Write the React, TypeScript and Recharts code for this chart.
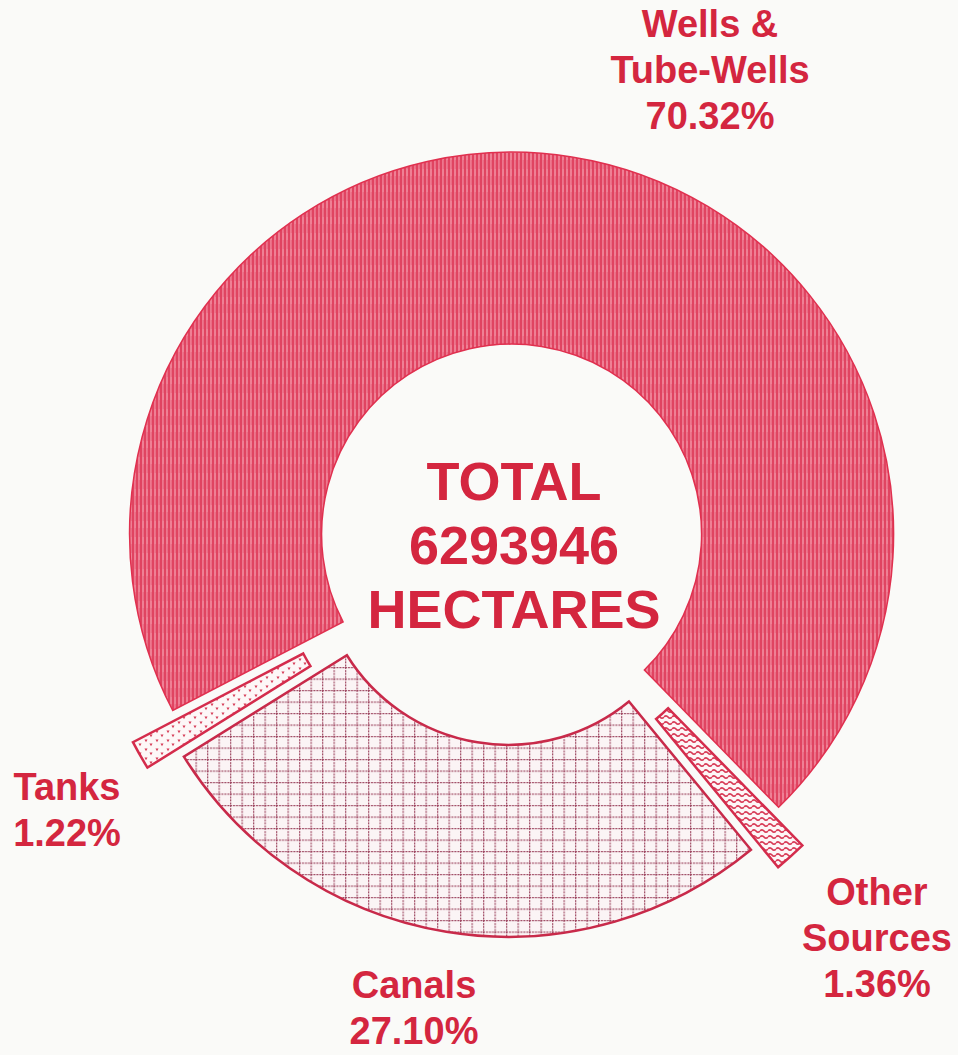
import React from 'react';
import { PieChart, Pie, Cell } from 'recharts';

// irrigated area by source (% of total)
const sources = ['Wells & Tube-Wells', 'Other Sources', 'Canals', 'Tanks'];
const shares = [70.32, 1.36, 27.1, 1.22];
const labelLines = [['Wells &', 'Tube-Wells'], ['Other', 'Sources'], ['Canals'], ['Tanks']];
const totalLines = ['TOTAL', '6293946', 'HECTARES'];

const data = sources.map((name, i) => ({ name, value: shares[i] }));

const W = 958;
const H = 1055;
const BASE = { x: 510, y: 544 };
const START = 207.5;
const INNER = 190;
const OUTER = 382;
const RED = '#d4263f';

// per-slice look: fill pattern, outline, how far it is pulled out, where its label sits
const sliceStyle = [
  { fill: 'url(#pWells)', stroke: '#e0304f', width: 1.5, explode: 10, label: { x: 710, y: 37 } },
  { fill: 'url(#pOther)', stroke: '#d42c4c', width: 2.5, explode: 38, label: { x: 877, y: 905 } },
  { fill: 'url(#pCanals)', stroke: '#c82a4a', width: 2.5, explode: 11, label: { x: 414, y: 998 } },
  { fill: 'url(#pTanks)', stroke: '#d42c4c', width: 2.5, explode: 44, label: { x: 67, y: 800 } },
];

const total = shares.reduce((a, b) => a + b, 0);

// mid angle of each slice, recharts convention (deg, counter-clockwise from 3 o'clock)
const midAngles = shares.map((v, i) => {
  const before = shares.slice(0, i).reduce((a, b) => a + b, 0);
  return START - ((before + v / 2) / total) * 360;
});

const RAD = Math.PI / 180;

const SliceLabel = ({ index, shown }: { index: number; shown: number }) => {
  if (index !== shown) return <g />;
  const pos = sliceStyle[shown].label;
  const lines = [...labelLines[shown], `${shares[shown].toFixed(2)}%`];
  return (
    <text
      x={pos.x}
      y={pos.y}
      textAnchor="middle"
      fill={RED}
      fontFamily="'Liberation Sans', Arial, sans-serif"
      fontWeight="bold"
      fontSize={38}
    >
      {lines.map((l, k) => (
        <tspan key={k} x={pos.x} y={pos.y + k * 46}>
          {l}
        </tspan>
      ))}
    </text>
  );
};

export default function App() {
  return (
    <div style={{ position: 'absolute', left: 0, top: 0, width: W, height: H, background: '#fafaf8' }}>
      <PieChart width={W} height={H} margin={{ top: 0, right: 0, bottom: 0, left: 0 }}>
        <defs>
          <pattern id="pWells" width="4" height="16" patternUnits="userSpaceOnUse">
            <rect width="4" height="16" fill="#ef8095" />
            <line x1="1" y1="0" x2="1" y2="16" stroke="#df3d5b" strokeWidth="1.8" />
            <line x1="3.2" y1="0" x2="3.2" y2="9" stroke="#e65d78" strokeWidth="0.8" />
          </pattern>
          <pattern id="pCanals" width="11.5" height="11.5" patternUnits="userSpaceOnUse">
            <rect width="11.5" height="11.5" fill="#fbf4f5" />
            <path d="M0 0.6 H11.5 M0.6 0 V11.5" stroke="#9e4862" strokeWidth="1.3" strokeDasharray="2 1" />
          </pattern>
          <pattern id="pTanks" width="11" height="9" patternUnits="userSpaceOnUse">
            <rect width="11" height="9" fill="#fdf7f7" />
            <path d="M1.5 1.5 l3 0 l-1.5 2.8 z" fill="#d63a56" />
            <path d="M6.5 5.5 l3 0 l-1.5 2.8 z" fill="#d63a56" />
          </pattern>
          <pattern id="pOther" width="8" height="6" patternUnits="userSpaceOnUse">
            <rect width="8" height="6" fill="#fdf6f7" />
            <path d="M0 3 Q2 0.6 4 3 T8 3" fill="none" stroke="#d83a56" strokeWidth="1.7" />
          </pattern>
        </defs>

        {sliceStyle.map((s, shown) => (
          <Pie
            key={shown}
            data={data}
            dataKey="value"
            nameKey="name"
            cx={BASE.x + s.explode * Math.cos(midAngles[shown] * RAD)}
            cy={BASE.y - s.explode * Math.sin(midAngles[shown] * RAD)}
            innerRadius={INNER}
            outerRadius={OUTER}
            startAngle={START}
            endAngle={START - 360}
            isAnimationActive={false}
            labelLine={false}
            label={(p: any) => <SliceLabel index={p.index} shown={shown} />}
          >
            {data.map((d, i) => (
              <Cell
                key={d.name}
                fill={i === shown ? s.fill : 'none'}
                stroke={i === shown ? s.stroke : 'none'}
                strokeWidth={s.width}
              />
            ))}
          </Pie>
        ))}

        <text
          textAnchor="middle"
          fill={RED}
          fontFamily="'Liberation Sans', Arial, sans-serif"
          fontWeight="bold"
          fontSize={54}
        >
          {totalLines.map((l, k) => (
            <tspan key={k} x={514} y={500 + k * 64}>
              {l}
            </tspan>
          ))}
        </text>
      </PieChart>
    </div>
  );
}
